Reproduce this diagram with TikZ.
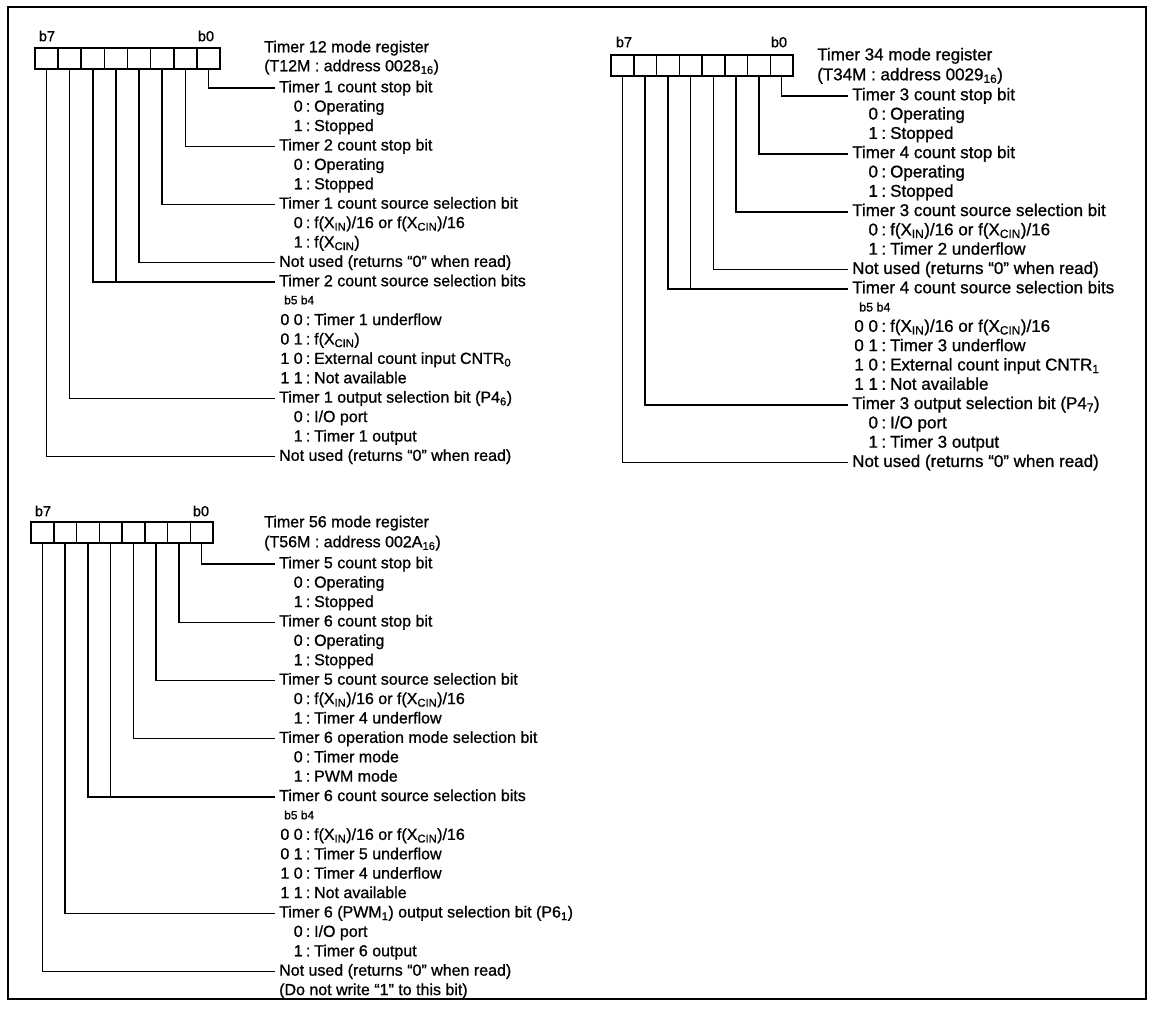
\documentclass[tikz,border=0pt]{standalone}
\usepackage{fontspec}
\setmainfont{Liberation Sans}[FakeBold=0.9]
\usetikzlibrary{positioning}

\newcommand{\sel}[2]{\makebox[1.28em][r]{#1}\hspace{0.2em}:\hspace{0.24em}#2}

\tikzset{
  outerframe/.style={line width=2.8pt},
  regcell/.style={draw, line width=1.5pt, minimum width=23.125pt, minimum height=21pt, inner sep=0pt, outer sep=0pt},
  regbox/.style={line width=2.2pt},
  bitno/.style={inner sep=0pt, font=\fontsize{14.5}{14.5}\selectfont},
  regtitle/.style={anchor=west, inner sep=0pt, text height=12pt, text depth=3.5pt},
  bithead/.style={anchor=west, inner xsep=4pt, inner ysep=0pt, text height=12pt, text depth=3.5pt},
  bitopt/.style={anchor=west, inner sep=0pt, text height=12pt, text depth=3.5pt},
  bitpair/.style={anchor=west, inner sep=0pt, font=\fontsize{12}{12}\selectfont},
  lead/.style={line width=1.4pt}
}

\begin{document}
\begin{tikzpicture}[x=1pt,y=-1pt,font=\fontsize{16}{19}\selectfont]
    \useasboundingbox (0,0) rectangle (1150,1010);
    \draw[outerframe] (8,7) rectangle (1146,999);

    % Timer 12 mode register
    \foreach \k in {0,...,7}
        \node[regcell] (a\k) at ({46.56+23.125*(7-\k)},58.5) {};
    \draw[regbox] (a7.north west) rectangle (a0.south east);
    \node[bitno] (a7no) at (47,36) {b7};
    \node[bitno] (a0no) at (206,36) {b0};
    \node[regtitle] (atitle) at (264,48) {Timer 12 mode register};
    \node[regtitle] (aaddr) at (264,67) {(T12M\ :\ address 0028\textsubscript{16})};

    \node[bithead] (ah0) at (275,88) {Timer 1 count stop bit};
    \node[bitopt] (ah0a) at (282,107.4) {\sel{0}{Operating}};
    \node[bitopt] (ah0b) at (282,126.8) {\sel{1}{Stopped}};
    \node[bithead] (ah1) at (275,146.2) {Timer 2 count stop bit};
    \node[bitopt] (ah1a) at (282,165.6) {\sel{0}{Operating}};
    \node[bitopt] (ah1b) at (282,185) {\sel{1}{Stopped}};
    \node[bithead] (ah2) at (275,204.4) {Timer 1 count source selection bit};
    \node[bitopt] (ah2a) at (282,223.8) {\sel{0}{f(X\textsubscript{IN})/16 or f(X\textsubscript{CIN})/16}};
    \node[bitopt] (ah2b) at (282,243.2) {\sel{1}{f(X\textsubscript{CIN})}};
    \node[bithead] (ah3) at (275,262.6) {Not used\ (returns “0” when read)};
    \node[bithead] (ah45) at (275,282) {Timer 2 count source selection bits};
    \node[bitpair] (ah45p) at (284,300) {b5 b4};
    \node[bitopt] (ah45a) at (282,320.8) {\sel{0 0}{Timer 1 underflow}};
    \node[bitopt] (ah45b) at (282,340.2) {\sel{0 1}{f(X\textsubscript{CIN})}};
    \node[bitopt] (ah45c) at (282,359.6) {\sel{1 0}{External count input CNTR\textsubscript{0}}};
    \node[bitopt] (ah45d) at (282,379) {\sel{1 1}{Not available}};
    \node[bithead] (ah6) at (275,398.4) {Timer 1 output selection bit\ (P4\textsubscript{6})};
    \node[bitopt] (ah6a) at (282,417.8) {\sel{0}{I/O port}};
    \node[bitopt] (ah6b) at (282,437.2) {\sel{1}{Timer 1 output}};
    \node[bithead] (ah7) at (275,456.6) {Not used\ (returns “0” when read)};

    \draw[lead] (a0.south) |- (ah0.west);
    \draw[lead] (a1.south) |- (ah1.west);
    \draw[lead] (a2.south) |- (ah2.west);
    \draw[lead] (a3.south) |- (ah3.west);
    \draw[lead] (a5.south) |- (ah45.west);
    \draw[lead] (a4.south) -- (a4.south |- ah45.west);
    \draw[lead] (a6.south) |- (ah6.west);
    \draw[lead] (a7.south) |- (ah7.west);

    % Timer 34 mode register
    \begin{scope}[font=\fontsize{17}{20}\selectfont]
    \foreach \k in {0,...,7}
        \node[regcell, minimum width=22.75pt] (b\k) at ({622.38+22.75*(7-\k)},65.5) {};
    \draw[regbox] (b7.north west) rectangle (b0.south east);
    \node[bitno] (b7no) at (624,42) {b7};
    \node[bitno] (b0no) at (779,42) {b0};
    \node[regtitle] (btitle) at (817,56) {Timer 34 mode register};
    \node[regtitle] (baddr) at (817,76) {(T34M\ :\ address 0029\textsubscript{16})};

    \node[bithead] (bh0) at (848,96) {Timer 3 count stop bit};
    \node[bitopt] (bh0a) at (856,115.3) {\sel{0}{Operating}};
    \node[bitopt] (bh0b) at (856,134.6) {\sel{1}{Stopped}};
    \node[bithead] (bh1) at (848,153.9) {Timer 4 count stop bit};
    \node[bitopt] (bh1a) at (856,173.2) {\sel{0}{Operating}};
    \node[bitopt] (bh1b) at (856,192.5) {\sel{1}{Stopped}};
    \node[bithead] (bh2) at (848,211.8) {Timer 3 count source selection bit};
    \node[bitopt] (bh2a) at (856,231.1) {\sel{0}{f(X\textsubscript{IN})/16 or f(X\textsubscript{CIN})/16}};
    \node[bitopt] (bh2b) at (856,250.4) {\sel{1}{Timer 2 underflow}};
    \node[bithead] (bh3) at (848,269.7) {Not used\ (returns “0” when read)};
    \node[bithead] (bh45) at (848,289) {Timer 4 count source selection bits};
    \node[bitpair, font=\fontsize{12.5}{12.5}\selectfont] (bh45p) at (859,307) {b5 b4};
    \node[bitopt] (bh45a) at (856,327.6) {\sel{0 0}{f(X\textsubscript{IN})/16 or f(X\textsubscript{CIN})/16}};
    \node[bitopt] (bh45b) at (856,346.9) {\sel{0 1}{Timer 3 underflow}};
    \node[bitopt] (bh45c) at (856,366.2) {\sel{1 0}{External count input CNTR\textsubscript{1}}};
    \node[bitopt] (bh45d) at (856,385.5) {\sel{1 1}{Not available}};
    \node[bithead] (bh6) at (848,404.8) {Timer 3 output selection bit\ (P4\textsubscript{7})};
    \node[bitopt] (bh6a) at (856,424.1) {\sel{0}{I/O port}};
    \node[bitopt] (bh6b) at (856,443.4) {\sel{1}{Timer 3 output}};
    \node[bithead] (bh7) at (848,462.7) {Not used\ (returns “0” when read)};

    \draw[lead] (b0.south) |- (bh0.west);
    \draw[lead] (b1.south) |- (bh1.west);
    \draw[lead] (b2.south) |- (bh2.west);
    \draw[lead] (b3.south) |- (bh3.west);
    \draw[lead] (b5.south) |- (bh45.west);
    \draw[lead] (b4.south) -- (b4.south |- bh45.west);
    \draw[lead] (b6.south) |- (bh6.west);
    \draw[lead] (b7.south) |- (bh7.west);
    \end{scope}

    % Timer 56 mode register
    \foreach \k in {0,...,7}
        \node[regcell, minimum width=22.75pt] (c\k) at ({42.38+22.75*(7-\k)},532.5) {};
    \draw[regbox] (c7.north west) rectangle (c0.south east);
    \node[bitno] (c7no) at (43,511) {b7};
    \node[bitno] (c0no) at (201,511) {b0};
    \node[regtitle] (ctitle) at (264,523) {Timer 56 mode register};
    \node[regtitle] (caddr) at (264,543) {(T56M\ :\ address 002A\textsubscript{16})};

    \node[bithead] (ch0) at (275,564) {Timer 5 count stop bit};
    \node[bitopt] (ch0a) at (282,583.4) {\sel{0}{Operating}};
    \node[bitopt] (ch0b) at (282,602.8) {\sel{1}{Stopped}};
    \node[bithead] (ch1) at (275,622.2) {Timer 6 count stop bit};
    \node[bitopt] (ch1a) at (282,641.6) {\sel{0}{Operating}};
    \node[bitopt] (ch1b) at (282,661) {\sel{1}{Stopped}};
    \node[bithead] (ch2) at (275,680.4) {Timer 5 count source selection bit};
    \node[bitopt] (ch2a) at (282,699.8) {\sel{0}{f(X\textsubscript{IN})/16 or f(X\textsubscript{CIN})/16}};
    \node[bitopt] (ch2b) at (282,719.2) {\sel{1}{Timer 4 underflow}};
    \node[bithead] (ch3) at (275,738.6) {Timer 6 operation mode selection bit};
    \node[bitopt] (ch3a) at (282,758) {\sel{0}{Timer mode}};
    \node[bitopt] (ch3b) at (282,777.4) {\sel{1}{PWM mode}};
    \node[bithead] (ch45) at (275,796.8) {Timer 6 count source selection bits};
    \node[bitpair] (ch45p) at (284,815) {b5 b4};
    \node[bitopt] (ch45a) at (282,835.6) {\sel{0 0}{f(X\textsubscript{IN})/16 or f(X\textsubscript{CIN})/16}};
    \node[bitopt] (ch45b) at (282,855) {\sel{0 1}{Timer 5 underflow}};
    \node[bitopt] (ch45c) at (282,874.4) {\sel{1 0}{Timer 4 underflow}};
    \node[bitopt] (ch45d) at (282,893.8) {\sel{1 1}{Not available}};
    \node[bithead] (ch6) at (275,913.2) {Timer 6\ (PWM\textsubscript{1})\ output selection bit\ (P6\textsubscript{1})};
    \node[bitopt] (ch6a) at (282,932.6) {\sel{0}{I/O port}};
    \node[bitopt] (ch6b) at (282,952) {\sel{1}{Timer 6 output}};
    \node[bithead] (ch7) at (275,971.4) {Not used\ (returns “0” when read)};
    \node[bithead] (ch7a) at (275,990.8) {(Do not write “1” to this bit)};

    \draw[lead] (c0.south) |- (ch0.west);
    \draw[lead] (c1.south) |- (ch1.west);
    \draw[lead] (c2.south) |- (ch2.west);
    \draw[lead] (c3.south) |- (ch3.west);
    \draw[lead] (c5.south) |- (ch45.west);
    \draw[lead] (c4.south) -- (c4.south |- ch45.west);
    \draw[lead] (c6.south) |- (ch6.west);
    \draw[lead] (c7.south) |- (ch7.west);
\end{tikzpicture}
\end{document}
